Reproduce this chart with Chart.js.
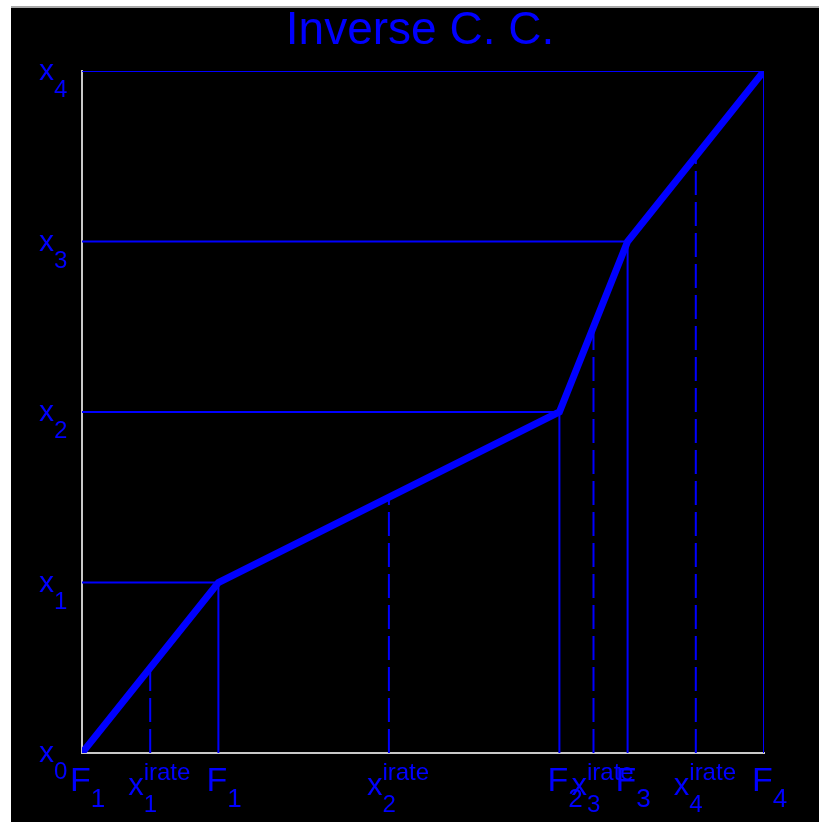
<!DOCTYPE html>
<html>
<head>
<meta charset="utf-8">
<script src="https://cdn.jsdelivr.net/npm/chart.js@4.4.0/dist/chart.umd.min.js"></script>
<style>
  html, body { margin: 0; padding: 0; background: #000; overflow: hidden; }
  #cc { display: block; }
</style>
</head>
<body>
<canvas id="cc" width="819" height="822"></canvas>
<script>
// Уровни x0..x4 (ось Y) и точки F (ось X)
const levels = [0, 1, 2, 3, 4];
const fPoints = [0, 0.2, 0.7, 0.8, 1.0];

// Пунктирные линии x_i^irate
const irateX = [0.1, 0.45, 0.75, 0.9];
const irateY = [0.5, 1.5, 2.5, 3.5];

// Подписи оси Y: x с индексом
const yTickSub = ['0', '1', '2', '3', '4'];

// Подписи оси X
const xTickPos = [0, 0.1, 0.2, 0.45, 0.7, 0.75, 0.8, 0.9, 1.0];
const xTickMain = ['F', 'x', 'F', 'x', 'F', 'x', 'F', 'x', 'F'];
const xTickSub = ['1', '1', '1', '2', '2', '3', '3', '4', '4'];
const xTickSup = ['', 'irate', '', 'irate', '', 'irate', '', 'irate', ''];

const titleText = 'Inverse C. C.';

const BLUE = '#0000ff';
const FONT = '"Liberation Sans", Arial, sans-serif';

function seg(x1, y1, x2, y2, dashed) {
    return {
        data: [{x: x1, y: y1}, {x: x2, y: y2}],
        borderColor: BLUE,
        borderWidth: 2,
        borderDash: dashed ? [24, 7] : [],
        pointRadius: 0,
        fill: false
    };
}

const datasets = [{
    label: 'curve',
    data: fPoints.map((f, i) => ({x: f, y: levels[i]})),
    borderColor: BLUE,
    borderWidth: 7,
    pointRadius: 0,
    fill: false,
    tension: 0
}];

for (let i = 1; i < levels.length; i++) {
    datasets.push(seg(0, levels[i], fPoints[i], levels[i], false));
    datasets.push(seg(fPoints[i], 0, fPoints[i], levels[i], false));
}
irateX.forEach((x, i) => datasets.push(seg(x, 0, x, irateY[i], true)));

// фон: белая рамка сверху и слева, остальное чёрное, плюс заголовок
const background = {
    id: 'background',
    beforeDraw(chart) {
        const c = chart.ctx;
        c.save();
        c.fillStyle = '#ffffff';
        c.fillRect(0, 0, chart.width, chart.height);
        c.fillStyle = '#000000';
        c.fillRect(11, 8, chart.width - 11, chart.height - 8);
        c.fillStyle = '#a8a8a8';
        c.fillRect(11, 6, chart.width - 11, 2);

        c.fillStyle = BLUE;
        c.font = '46px ' + FONT;
        c.textAlign = 'center';
        c.textBaseline = 'alphabetic';
        c.fillText(titleText, 420, 44);
        c.restore();
    }
};

function drawLabel(c, left, base, main, mainSize, sub, subSize, subDy, sup, supDy) {
    c.font = mainSize + 'px ' + FONT;
    c.fillText(main, left, base);
    const w = c.measureText(main).width;
    c.font = subSize + 'px ' + FONT;
    if (sub) c.fillText(sub, left + w, base + subDy);
    if (sup) c.fillText(sup, left + w, base + supDy);
}

// подписи делений с индексами
const tickLabels = {
    id: 'tickLabels',
    afterDraw(chart) {
        const c = chart.ctx;
        const xs = chart.scales.x;
        const ys = chart.scales.y;
        c.save();
        c.fillStyle = BLUE;
        c.textBaseline = 'alphabetic';
        c.textAlign = 'left';
        levels.forEach((v, i) => {
            const py = ys.getPixelForValue(v);
            drawLabel(c, xs.left - 43, py + 9, 'x', 30, yTickSub[i], 24, 17);
        });
        xTickPos.forEach((v, i) => {
            const px = xs.getPixelForValue(v);
            if (xTickMain[i] === 'F') {
                drawLabel(c, px - 12, ys.bottom + 38, 'F', 34, xTickSub[i], 26, 16);
            } else {
                drawLabel(c, px - 22, ys.bottom + 42, 'x', 31, xTickSub[i], 24, 17, xTickSup[i], -15);
            }
        });
        c.restore();
    }
};

new Chart(document.getElementById('cc'), {
    type: 'line',
    data: { datasets: datasets },
    options: {
        responsive: false,
        animation: false,
        layout: { padding: { left: 0, right: 55, top: 71, bottom: 0 } },
        plugins: {
            legend: { display: false },
            tooltip: { enabled: false },
            title: { display: false }
        },
        scales: {
            x: {
                type: 'linear',
                min: 0,
                max: 1,
                grid: { display: false },
                border: { color: '#c8c8c8', width: 2 },
                ticks: { display: false },
                afterFit(s) { s.height = 69; }
            },
            y: {
                type: 'linear',
                min: 0,
                max: 4,
                grid: { display: false },
                border: { color: '#c8c8c8', width: 2 },
                ticks: { display: false },
                afterFit(s) { s.width = 82; }
            }
        }
    },
    plugins: [background, tickLabels]
});
</script>
</body>
</html>
